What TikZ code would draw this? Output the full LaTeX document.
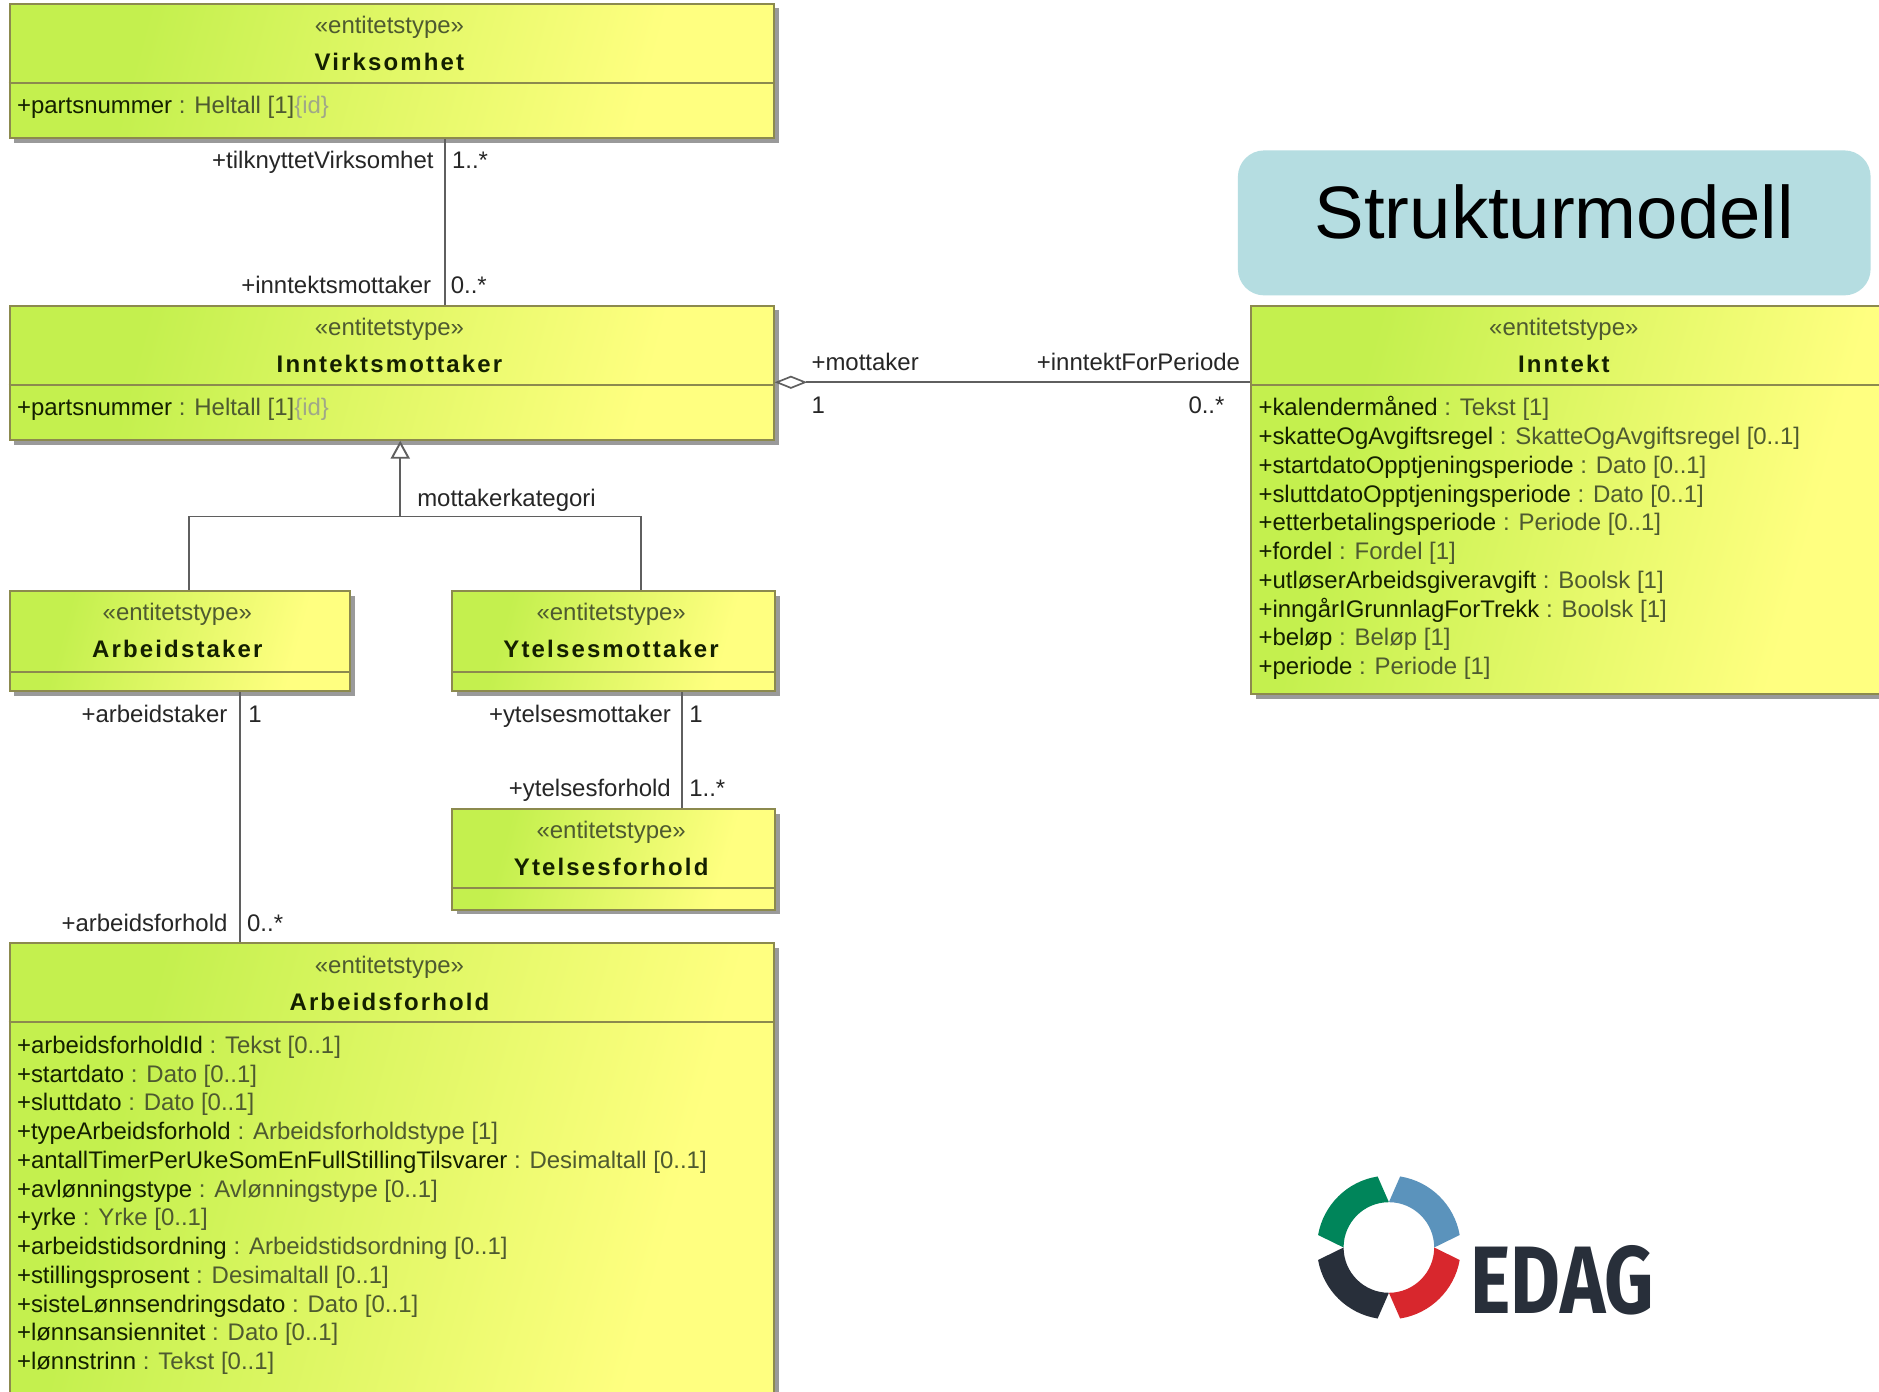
\documentclass[tikz,border=0pt]{standalone}
\usepackage{fontspec}
\setmainfont{Liberation Sans}
\newfontfamily\umlhead[LetterSpace=9]{Liberation Sans}
\newfontfamily\logofont{Fira Sans}
\usetikzlibrary{shadows,arrows.meta,shapes.geometric}
\definecolor{limeg}{HTML}{C4F04E}
\definecolor{yelg}{HTML}{FFFF80}
\definecolor{edgeg}{HTML}{8C8A4E}
\definecolor{shadowg}{HTML}{9A9A9A}
\definecolor{lineg}{HTML}{5F5F5F}
\definecolor{tyg}{HTML}{4E5A30}
\definecolor{idg}{HTML}{A0A888}
\definecolor{namek}{HTML}{142000}
\definecolor{banner}{HTML}{B5DDE1}
\definecolor{edgr}{HTML}{00855A}
\definecolor{edbl}{HTML}{5B93BC}
\definecolor{edrd}{HTML}{D8272D}
\definecolor{eddk}{HTML}{282F3A}
\pgfdeclarehorizontalshading{umlgrad}{100bp}{color(0bp)=(limeg);color(30bp)=(limeg);color(70bp)=(yelg);color(100bp)=(yelg)}
\tikzset{
  umlbox/.style={draw=edgeg,line width=1.6pt,shading=umlgrad,shading angle=-15,
    drop shadow={shadow xshift=4pt,shadow yshift=-4pt,fill=shadowg,opacity=1},inner sep=0pt},
  divider/.style={draw=edgeg,line width=1.6pt},
  stereo/.style={anchor=base,font=\fontsize{20}{24}\selectfont,text=tyg,inner sep=0pt},
  cname/.style={anchor=base,font=\fontsize{20}{24}\umlhead\bfseries\selectfont,text=namek,inner sep=0pt},
  attr/.style={anchor=base west,font=\fontsize{20}{24}\selectfont,text=tyg,inner sep=0pt},
  rolel/.style={anchor=base east,font=\fontsize{20}{24}\selectfont,text=black!85,inner sep=0pt},
  roler/.style={anchor=base west,font=\fontsize{20}{24}\selectfont,text=black!85,inner sep=0pt},
  assoc/.style={draw=lineg,line width=1.6pt},
}
\newcommand{\nm}[1]{\textcolor{namek}{#1}}
\newcommand{\idt}{\textcolor{idg}{\{id\}}}
\begin{document}
\begin{tikzpicture}[x=1pt,y=-1pt]
\useasboundingbox (0,0) rectangle (1568,1161.6);
\fill[white] (0,0) rectangle (1568,1161.6);
\clip (0,0) rectangle (1568,1161.6);

% Boxes
\node[umlbox,minimum width=638pt,minimum height=112pt] (virk) at (327,59) {};
\node[umlbox,minimum width=638pt,minimum height=112pt] (imot) at (327,311) {};
\node[umlbox,minimum width=284pt,minimum height=84pt] (arbt) at (150,535) {};
\node[umlbox,minimum width=270pt,minimum height=84pt] (ymot) at (512,535) {};
\node[umlbox,minimum width=270pt,minimum height=84pt] (yfor) at (512,717) {};
\node[umlbox,minimum width=638pt,minimum height=400pt] (afor) at (327,987) {};
\node[umlbox,minimum width=540pt,minimum height=324pt] (innt) at (1314,417) {};

% Dividers
\draw[divider] (virk.west |- 0,69) -- (virk.east |- 0,69);
\draw[divider] (imot.west |- 0,321) -- (imot.east |- 0,321);
\draw[divider] (arbt.west |- 0,561) -- (arbt.east |- 0,561);
\draw[divider] (ymot.west |- 0,561) -- (ymot.east |- 0,561);
\draw[divider] (yfor.west |- 0,741) -- (yfor.east |- 0,741);
\draw[divider] (afor.west |- 0,853) -- (afor.east |- 0,853);
\draw[divider] (innt.west |- 0,321) -- (innt.east |- 0,321);

% Headers
\node[stereo] (h1) at (325,28) {«entitetstype»};
\node[cname] (n1) at (325,59) {Virksomhet};
\node[stereo] (h2) at (325,280) {«entitetstype»};
\node[cname] (n2) at (325,311) {Inntektsmottaker};
\node[stereo] (h3) at (148,518) {«entitetstype»};
\node[cname] (n3) at (148,549) {Arbeidstaker};
\node[stereo] (h4) at (510,518) {«entitetstype»};
\node[cname] (n4) at (510,549) {Ytelsesmottaker};
\node[stereo] (h5) at (510,700) {«entitetstype»};
\node[cname] (n5) at (510,731) {Ytelsesforhold};
\node[stereo] (h6) at (325,812) {«entitetstype»};
\node[cname] (n6) at (325,843) {Arbeidsforhold};
\node[stereo] (h7) at (1305,280) {«entitetstype»};
\node[cname] (n7) at (1305,311) {Inntekt};

% Attributes
\node[attr] (a1) at (14,95) {\nm{+partsnummer} : Heltall [1]\idt};
\node[attr] (a2) at (14,347) {\nm{+partsnummer} : Heltall [1]\idt};

\node[attr] (i1) at (1050,347) {\nm{+kalendermåned} : Tekst [1]};
\node[attr] (i2) at (1050,371) {\nm{+skatteOgAvgiftsregel} : SkatteOgAvgiftsregel [0..1]};
\node[attr] (i3) at (1050,395) {\nm{+startdatoOpptjeningsperiode} : Dato [0..1]};
\node[attr] (i4) at (1050,419) {\nm{+sluttdatoOpptjeningsperiode} : Dato [0..1]};
\node[attr] (i5) at (1050,443) {\nm{+etterbetalingsperiode} : Periode [0..1]};
\node[attr] (i6) at (1050,467) {\nm{+fordel} : Fordel [1]};
\node[attr] (i7) at (1050,491) {\nm{+utløserArbeidsgiveravgift} : Boolsk [1]};
\node[attr] (i8) at (1050,515) {\nm{+inngårIGrunnlagForTrekk} : Boolsk [1]};
\node[attr] (i9) at (1050,539) {\nm{+beløp} : Beløp [1]};
\node[attr] (i10) at (1050,563) {\nm{+periode} : Periode [1]};

\node[attr] (f1) at (14,879) {\nm{+arbeidsforholdId} : Tekst [0..1]};
\node[attr] (f2) at (14,903) {\nm{+startdato} : Dato [0..1]};
\node[attr] (f3) at (14,927) {\nm{+sluttdato} : Dato [0..1]};
\node[attr] (f4) at (14,951) {\nm{+typeArbeidsforhold} : Arbeidsforholdstype [1]};
\node[attr] (f5) at (14,975) {\nm{+antallTimerPerUkeSomEnFullStillingTilsvarer} : Desimaltall [0..1]};
\node[attr] (f6) at (14,999) {\nm{+avlønningstype} : Avlønningstype [0..1]};
\node[attr] (f7) at (14,1023) {\nm{+yrke} : Yrke [0..1]};
\node[attr] (f8) at (14,1047) {\nm{+arbeidstidsordning} : Arbeidstidsordning [0..1]};
\node[attr] (f9) at (14,1071) {\nm{+stillingsprosent} : Desimaltall [0..1]};
\node[attr] (f10) at (14,1095) {\nm{+sisteLønnsendringsdato} : Dato [0..1]};
\node[attr] (f11) at (14,1119) {\nm{+lønnsansiennitet} : Dato [0..1]};
\node[attr] (f12) at (14,1143) {\nm{+lønnstrinn} : Tekst [0..1]};

% Connectors
\draw[assoc] (virk.south -| 371,0) -- (imot.north -| 371,0);
\draw[assoc] (arbt.south -| 200,0) -- (afor.north -| 200,0);
\draw[assoc] (ymot.south -| 569,0) -- (yfor.north -| 569,0);
\node[diamond,draw=lineg,line width=1.4pt,fill=white,minimum width=24pt,minimum height=10pt,inner sep=0pt] (dia) at (660,319) {};
\draw[assoc] (dia.east) -- (dia.east -| innt.west);
\coordinate (junc) at (334,431);
\draw[assoc,-{Triangle[open,fill=white,length=15pt,width=16pt]}] (junc) -- (junc |- imot.south);
\draw[assoc] (arbt.north -| 158,0) |- (junc);
\draw[assoc] (ymot.north -| 535,0) |- (junc);

% Connector labels
\node[rolel] (r1) at (362,141) {+tilknyttetVirksomhet};
\node[roler] (m1) at (377,141) {1..*};
\node[rolel] (r2) at (360,245) {+inntektsmottaker};
\node[roler] (m2) at (376,245) {0..*};
\node[roler] (r3) at (677,309) {+mottaker};
\node[rolel] (r4) at (1035,309) {+inntektForPeriode};
\node[roler] (m3) at (677,345) {1};
\node[rolel] (m4) at (1022,345) {0..*};
\node[roler] (gs) at (348,423) {mottakerkategori};
\node[rolel] (r5) at (190,603) {+arbeidstaker};
\node[roler] (m5) at (207,603) {1};
\node[rolel] (r6) at (560,603) {+ytelsesmottaker};
\node[roler] (m6) at (575,603) {1};
\node[rolel] (r7) at (560,665) {+ytelsesforhold};
\node[roler] (m7) at (575,665) {1..*};
\node[rolel] (r8) at (190,777) {+arbeidsforhold};
\node[roler] (m8) at (206,777) {0..*};

% Banner
\node[fill=banner,rounded corners=22pt,minimum width=528pt,minimum height=121pt,inner sep=0pt] (ban) at (1297,186) {};
\node[anchor=base,font=\fontsize{62}{70}\selectfont,text=black,inner sep=0pt] (bant) at (1297,199) {Strukturmodell};

% Logo
\begin{scope}[shift={(1159,1041)}]
\fill[edbl] (90:37.8pt) arc[start angle=90,end angle=0,radius=37.8pt] -- (10:60pt) arc[start angle=10,end angle=81,radius=60pt] -- cycle;
\fill[edgr] (90:37.8pt) arc[start angle=90,end angle=180,radius=37.8pt] -- (170:60pt) arc[start angle=170,end angle=99,radius=60pt] -- cycle;
\fill[eddk] (270:37.8pt) arc[start angle=270,end angle=180,radius=37.8pt] -- (190:60pt) arc[start angle=190,end angle=261,radius=60pt] -- cycle;
\fill[edrd] (270:37.8pt) arc[start angle=270,end angle=360,radius=37.8pt] -- (350:60pt) arc[start angle=350,end angle=279,radius=60pt] -- cycle;
\end{scope}
\node[anchor=base west,inner sep=0pt,font=\fontsize{80}{90}\logofont\bfseries\selectfont,text=eddk,xscale=0.8] (edag) at (1227,1096) {EDAG};
\end{tikzpicture}
\end{document}
